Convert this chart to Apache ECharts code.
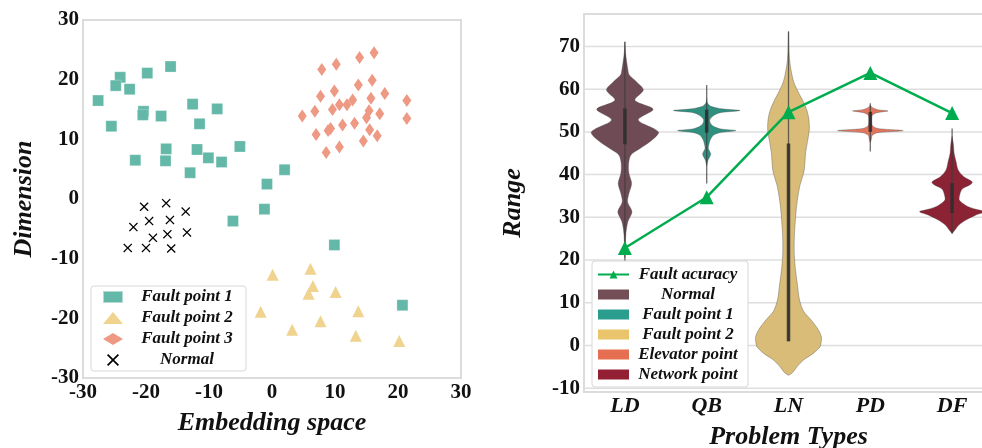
<!DOCTYPE html>
<html><head><meta charset="utf-8">
<script src="https://cdn.jsdelivr.net/npm/echarts@6/dist/echarts.min.js"></script>
<style>html,body{margin:0;padding:0;background:#fff}#c{width:982px;height:448px}</style>
</head><body><div id="c"></div>
<script>
// ---------- Left: embedding scatter ----------
const scatterTicks = [-30, -20, -10, 0, 10, 20, 30];
const faultPoint1 = [[-27.6,16.5],[-24.1,20.4],[-24.8,19.0],[-22.6,18.4],[-19.8,21.1],[-16.1,22.2],[-25.5,12.2],[-20.4,14.7],[-20.5,14.1],[-17.6,13.9],[-12.6,15.9],[-8.7,15.1],[-11.5,12.6],[-16.8,8.4],[-11.9,8.3],[-5.1,8.8],[-21.7,6.5],[-16.9,6.4],[-10.1,6.9],[-8.0,6.2],[-13.0,4.4],[2.0,4.9],[-0.8,2.5],[-1.2,-1.7],[-6.2,-3.7],[9.9,-7.7],[20.7,-17.8]];
const faultPoint2 = [[6.1,-11.7],[0.1,-12.7],[6.5,-14.6],[5.8,-15.9],[10.1,-15.6],[-1.8,-18.9],[13.7,-18.8],[7.7,-20.5],[3.2,-21.9],[13.3,-22.9],[20.2,-23.8]];
const faultPoint3 = [[16.2,24.5],[13.9,23.7],[7.9,21.7],[10.2,22.6],[15.9,19.9],[13.7,19.1],[17.9,17.7],[9.9,18.1],[7.7,17.2],[15.7,16.9],[21.4,16.5],[12.8,16.6],[10.7,15.8],[11.9,15.8],[9.6,15.0],[15.4,14.8],[6.8,14.7],[4.8,13.9],[17.1,14.3],[15.0,13.6],[21.4,13.5],[13.1,12.7],[11.2,12.4],[9.3,11.8],[8.9,11.5],[15.5,11.6],[7.0,10.8],[16.7,10.6],[14.5,9.7],[10.7,8.7],[8.6,7.8]];
const normalPts = [[-20.3,-1.3],[-16.8,-0.7],[-13.7,-2.1],[-22.0,-4.7],[-19.5,-3.7],[-16.2,-3.5],[-16.6,-5.9],[-13.5,-5.6],[-18.9,-6.5],[-22.9,-8.2],[-20.0,-8.2],[-16.0,-8.3]];

// ---------- Right: violins + accuracy line ----------
const problemTypes = ['LD', 'QB', 'LN', 'PD', 'DF'];
const rangeTicks = [-10, 0, 10, 20, 30, 40, 50, 60, 70];
const rangeExtent = [-10.9, 77.6];
const faultAccuracy = [22.8, 34.7, 54.6, 63.8, 54.4];
// violin profiles: [value, relative density]
const ldProfile = [[71.1,0],[68.4,0.02],[64.5,0.09],[63.3,0.13],[61.7,0.35],[59.8,0.55],[57.4,0.3],[55.3,0.84],[52.8,0.4],[50.0,1.0],[48.1,0.81],[46.1,0.45],[44.6,0.18],[42.6,0.11],[40.3,0.12],[37.9,0.2],[35.6,0.12],[33.6,0.08],[31.3,0.21],[29.0,0.09],[26.2,0.03],[22.3,0.01],[20.5,0]];
const qbProfile = [[57.8,0],[56.8,0.02],[56.0,0.12],[55.4,0.45],[55.0,0.99],[54.5,0.4],[53.9,0.22],[53.0,0.1],[52.2,0.1],[51.3,0.2],[50.7,0.42],[50.3,0.87],[49.8,0.38],[49.2,0.2],[48.2,0.11],[47.2,0.07],[46.1,0.05],[44.9,0.12],[44.3,0.1],[43.4,0.04],[42.0,0]];
const lnProfile = [[73.5,0],[67.0,0.03],[62.1,0.14],[59.5,0.28],[57.4,0.42],[55.0,0.55],[52.8,0.61],[50.4,0.62],[47.5,0.56],[45.0,0.51],[41.1,0.47],[39.0,0.4],[37.1,0.33],[32.5,0.24],[26.3,0.18],[22.0,0.17],[18.4,0.2],[14.0,0.27],[10.6,0.33],[8.0,0.45],[5.9,0.68],[3.8,0.88],[2.0,0.98],[0.5,0.97],[-0.3,0.94],[-1.8,0.75],[-3.4,0.45],[-5.0,0.25],[-5.8,0.18],[-6.5,0.1],[-7.0,0]];
const pdProfile = [[56.3,0],[55.7,0.06],[55.2,0.22],[54.9,0.53],[54.5,0.2],[53.9,0.06],[52.8,0.04],[51.5,0.06],[50.8,0.22],[50.3,0.98],[49.8,0.22],[49.2,0.06],[48.2,0.03],[47.5,0]];
const dfProfile = [[49.0,0],[47.0,0.04],[45.0,0.06],[43.0,0.12],[41.1,0.18],[39.5,0.35],[38.3,0.6],[37.7,0.55],[36.6,0.3],[35.0,0.22],[34.0,0.22],[32.6,0.45],[31.8,0.75],[31.3,0.97],[30.5,0.7],[29.3,0.4],[28.2,0.2],[27.4,0.12],[26.2,0]];
// inner box [q1, q3] and whisker [low, high]
const ldBox = [47.1, 55.5], ldWhisker = [19.5, 71.1];
const qbBox = [49.8, 55.2], qbWhisker = [37.9, 61.0];
const lnBox = [1.0, 47.3],  lnWhisker = [1.0, 73.5];
const pdBox = [50.0, 54.7], pdWhisker = [45.4, 56.7];
const dfBox = [31.0, 38.0], dfWhisker = [26.2, 50.8];

const SERIF = 'Liberation Serif, Times New Roman, serif';
const MAXW = 0.41; // max half-width as a fraction of the category band

function violin(name, cat, profile, box, whisker, fill, legendColor) {
  return {
    type: 'custom', name: name, xAxisIndex: 1, yAxisIndex: 1, z: 3,
    itemStyle: { color: legendColor },
    data: [[cat, box[0], box[1], whisker[0], whisker[1]]],
    renderItem: function (params, api) {
      const c = api.value(0);
      const hw = api.size([1, 0])[0] * MAXW;
      const right = [], left = [];
      profile.forEach(function (p) {
        const pt = api.coord([c, p[0]]);
        right.push([pt[0] + p[1] * hw, pt[1]]);
        left.push([pt[0] - p[1] * hw, pt[1]]);
      });
      const pts = right.concat(left.reverse());
      const wTop = api.coord([c, api.value(4)]), wBot = api.coord([c, api.value(3)]);
      const bTop = api.coord([c, api.value(2)]), bBot = api.coord([c, api.value(1)]);
      return { type: 'group', children: [
        { type: 'polygon', shape: { points: pts, smooth: 0.3 },
          style: { fill: fill, stroke: 'rgba(70,70,70,0.45)', lineWidth: 0.8 } },
        { type: 'line', shape: { x1: wTop[0], y1: wTop[1], x2: wBot[0], y2: wBot[1] },
          style: { stroke: 'rgba(60,60,60,0.75)', lineWidth: 1.3 } },
        { type: 'line', shape: { x1: bTop[0], y1: bTop[1], x2: bBot[0], y2: bBot[1] },
          style: { stroke: 'rgba(45,45,45,0.85)', lineWidth: 3.5 } }
      ]};
    }
  };
}

const chart = echarts.init(document.getElementById('c'), null, { renderer: 'canvas' });
const tickFont = { fontFamily: SERIF, fontWeight: 'bold', fontSize: 21, color: '#111' };
const nameFont = { fontFamily: SERIF, fontWeight: 'bold', fontStyle: 'italic', fontSize: 26, color: '#111' };
const legendRich = function (w, fs) {
  return { c: { width: w, align: 'center', fontFamily: SERIF, fontWeight: 'bold', fontStyle: 'italic', fontSize: fs, color: '#111' } };
};

chart.setOption({
  backgroundColor: '#fff',
  animation: false,
  grid: [
    { left: 83, top: 20, width: 378, height: 358, show: true, borderColor: '#dcdcdc', borderWidth: 2,
      containLabel: false, outerBoundsMode: 'none' },
    { left: 584, top: 14, width: 409, height: 378, show: true, borderColor: '#dcdcdc', borderWidth: 2,
      containLabel: false, outerBoundsMode: 'none' }
  ],
  xAxis: [
    { gridIndex: 0, type: 'value', min: scatterTicks[0], max: scatterTicks[scatterTicks.length - 1], interval: 10,
      axisLine: { show: false }, axisTick: { show: false }, splitLine: { show: false },
      axisLabel: Object.assign({ margin: 4 }, tickFont),
      name: 'Embedding space', nameLocation: 'middle', nameGap: 32, nameTextStyle: nameFont },
    { gridIndex: 1, type: 'category', data: problemTypes, boundaryGap: true,
      axisLine: { show: false }, axisTick: { show: false }, splitLine: { show: false },
      axisLabel: Object.assign({ margin: 3 }, tickFont, { fontStyle: 'italic', fontSize: 22 }),
      name: 'Problem Types', nameLocation: 'middle', nameGap: 32, nameTextStyle: nameFont }
  ],
  yAxis: [
    { gridIndex: 0, type: 'value', min: scatterTicks[0], max: scatterTicks[scatterTicks.length - 1], interval: 10,
      axisLine: { show: false }, axisTick: { show: false }, splitLine: { show: false },
      axisLabel: Object.assign({ margin: 4 }, tickFont),
      name: 'Dimension', nameLocation: 'middle', nameGap: 46, nameTextStyle: nameFont },
    { gridIndex: 1, type: 'value', min: rangeExtent[0], max: rangeExtent[1],
      axisLine: { show: false }, axisTick: { show: false, customValues: rangeTicks }, splitLine: { show: false },
      axisLabel: Object.assign({ margin: 4, customValues: rangeTicks }, tickFont),
      name: 'Range', nameLocation: 'middle', nameGap: 58, nameTextStyle: nameFont }
  ],
  legend: [
    { orient: 'vertical', left: 91, top: 286, padding: [2, 0, 2, 11], itemGap: 3, itemWidth: 20, itemHeight: 12,
      backgroundColor: '#fff', borderColor: '#d8d8d8', borderWidth: 1, borderRadius: 3,
      data: ['Fault point 1', 'Fault point 2', 'Fault point 3', 'Normal'],
      formatter: function (n) { return '{c|' + n + '}'; },
      textStyle: { lineHeight: 18, rich: legendRich(118, 17) } },
    { orient: 'vertical', left: 592, top: 261, padding: [5, 6, 4, 5], itemGap: 3, itemWidth: 31, itemHeight: 10,
      backgroundColor: '#fff', borderColor: '#d8d8d8', borderWidth: 1, borderRadius: 3,
      data: [{ name: 'Fault acuracy' }, { name: 'v:Normal', icon: 'rect' }, { name: 'v:Fault point 1', icon: 'rect' },
             { name: 'v:Fault point 2', icon: 'rect' }, { name: 'v:Elevator point', icon: 'rect' }, { name: 'v:Network point', icon: 'rect' }],
      formatter: function (n) { return '{c|' + n.replace(/^v:/, '') + '}'; },
      textStyle: { lineHeight: 17, rich: legendRich(108, 17) } }
  ],
  series: [
    { type: 'scatter', name: 'Fault point 1', xAxisIndex: 0, yAxisIndex: 0, data: faultPoint1,
      symbol: 'rect', symbolSize: 11, itemStyle: { color: '#64b8a7', opacity: 1, borderColor: 'rgba(255,255,255,0.5)', borderWidth: 0.5 } },
    { type: 'scatter', name: 'Fault point 2', xAxisIndex: 0, yAxisIndex: 0, data: faultPoint2,
      symbol: 'triangle', symbolSize: 12, itemStyle: { color: '#efd38e', opacity: 1 } },
    { type: 'scatter', name: 'Fault point 3', xAxisIndex: 0, yAxisIndex: 0, data: faultPoint3,
      symbol: 'diamond', symbolSize: [9, 13], itemStyle: { color: '#ee9984', opacity: 1 } },
    { type: 'scatter', name: 'Normal', xAxisIndex: 0, yAxisIndex: 0, data: normalPts,
      symbol: 'path://M0,1L1,0L5,4L9,0L10,1L6,5L10,9L9,10L5,6L1,10L0,9L4,5Z', symbolSize: 9, itemStyle: { color: '#000', opacity: 1 } },
    { type: 'custom', name: 'gridlines', xAxisIndex: 1, yAxisIndex: 1, z: 1, silent: true,
      data: rangeTicks.map(function (v) { return [0, v]; }),
      renderItem: function (params, api) {
        const y = api.coord([0, api.value(1)])[1];
        const cs = params.coordSys;
        return { type: 'line', shape: { x1: cs.x, y1: y, x2: cs.x + cs.width, y2: y },
          style: { stroke: '#dedede', lineWidth: 1.5 } };
      } },
    violin('v:Normal', 0, ldProfile, ldBox, ldWhisker, '#6e4b55', '#734e57'),
    violin('v:Fault point 1', 1, qbProfile, qbBox, qbWhisker, '#2f9080', '#2a9d8f'),
    violin('v:Fault point 2', 2, lnProfile, lnBox, lnWhisker, '#d9bc78', '#e9c46a'),
    violin('v:Elevator point', 3, pdProfile, pdBox, pdWhisker, '#e2765d', '#e76f51'),
    violin('v:Network point', 4, dfProfile, dfBox, dfWhisker, '#8b2335', '#921f33'),
    { type: 'line', name: 'Fault acuracy', xAxisIndex: 1, yAxisIndex: 1, z: 5, data: faultAccuracy,
      symbol: 'triangle', symbolSize: 14, color: '#00ad4e',
      lineStyle: { color: '#00ad4e', width: 2.5 }, itemStyle: { color: '#00ad4e' } }
  ]
});
</script></body></html>
